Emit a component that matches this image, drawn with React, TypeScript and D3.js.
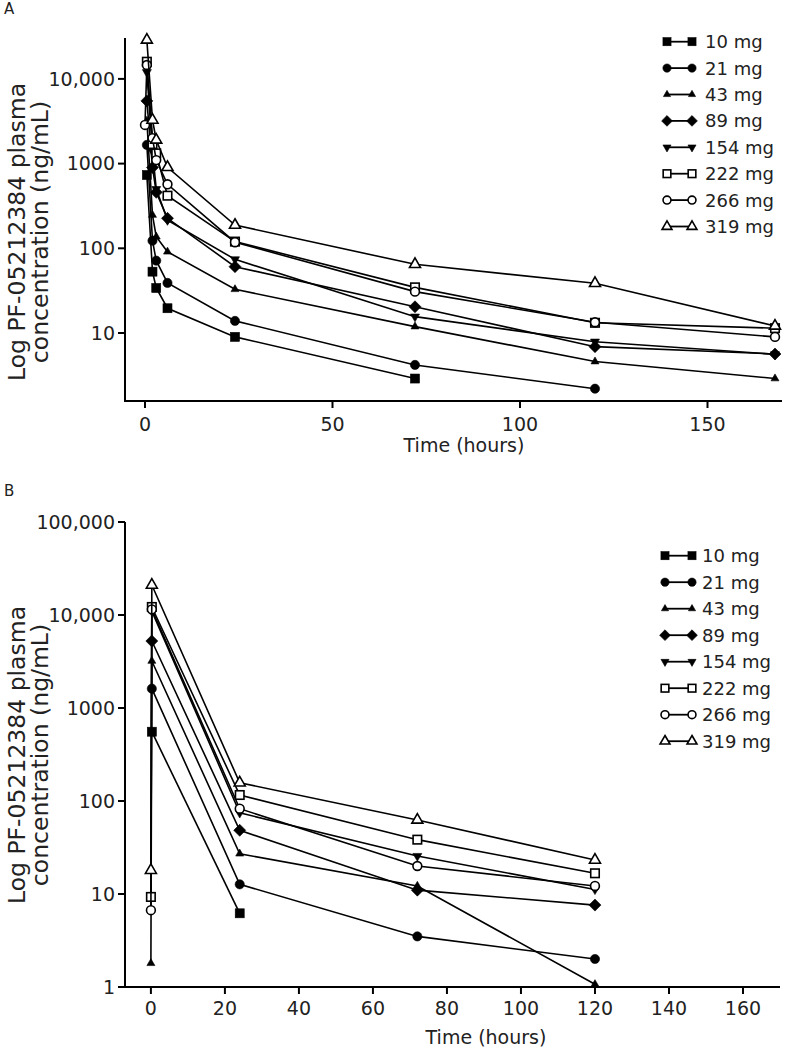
import React from "react";
import * as d3 from "d3";

// ---------- DATA ----------
const doseLabels = ["10 mg", "21 mg", "43 mg", "89 mg", "154 mg", "222 mg", "266 mg", "319 mg"];
const markerKinds = ["squareF", "circleF", "triF", "diamondF", "downF", "squareO", "circleO", "triO"];

// Panel A (hours, ng/mL)
const A10_t = [0.5, 2, 3, 6, 24, 72];
const A10_v = [733, 53, 34, 19.6, 9.0, 2.9];
const A21_t = [0.5, 2, 3, 6, 24, 72, 120];
const A21_v = [1660, 123, 71.5, 39, 13.9, 4.2, 2.2];
const A43_t = [0.5, 2, 3, 6, 24, 72, 120, 168];
const A43_v = [3200, 247, 137, 91, 32.8, 11.9, 4.6, 2.9];
const A89_t = [0.5, 2, 3, 6, 24, 72, 120, 168];
const A89_v = [5500, 900, 458, 226, 60.7, 20.4, 6.9, 5.65];
const A154_t = [0.5, 2, 3, 6, 24, 72, 120, 168];
const A154_v = [12000, 1400, 500, 215, 74, 15.6, 7.9, 5.6];
const A222_t = [0.5, 2, 3, 6, 24, 72, 120, 168];
const A222_v = [15950, 1700, 1320, 418, 120, 34.6, 13.2, 11.4];
const A266_t = [0, 0.5, 2, 3, 6, 24, 72, 120, 168];
const A266_v = [2860, 14600, 2000, 1100, 570, 118, 30.8, 13.4, 9.0];
const A319_t = [0.5, 2, 3, 6, 24, 72, 120, 168];
const A319_v = [28800, 3270, 1900, 904, 188, 64.7, 38.6, 12.1];

// Panel B
const B10_t = [0.25, 24];
const B10_v = [556, 6.2];
const B21_t = [0.25, 24, 72, 120];
const B21_v = [1615, 12.7, 3.5, 2.0];
const B43_t = [0, 0.25, 24, 72, 120];
const B43_v = [1.8, 3200, 27.1, 12.2, 1.07];
const B89_t = [0.25, 24, 72, 120];
const B89_v = [5250, 48.4, 11, 7.6];
const B154_t = [0.25, 24, 72, 120];
const B154_v = [11000, 74.6, 25.6, 11.2];
const B222_t = [0, 0.25, 24, 72, 120];
const B222_v = [9.3, 12200, 116, 38.4, 16.7];
const B266_t = [0, 0.25, 24, 72, 120];
const B266_v = [6.7, 11500, 82.6, 20, 12.2];
const B319_t = [0, 0.25, 24, 72, 120];
const B319_v = [18, 21000, 157, 62.5, 23.2];

const A_ticksX = [0, 50, 100, 150];
const A_ticksY = [10, 100, 1000, 10000];
const A_tickLabelsY = ["10", "100", "1000", "10,000"];
const B_ticksX = [0, 20, 40, 60, 80, 100, 120, 140, 160];
const B_ticksY = [1, 10, 100, 1000, 10000, 100000];
const B_tickLabelsY = ["1", "10", "100", "1000", "10,000", "100,000"];

const seriesA = [
  [A10_t, A10_v], [A21_t, A21_v], [A43_t, A43_v], [A89_t, A89_v],
  [A154_t, A154_v], [A222_t, A222_v], [A266_t, A266_v], [A319_t, A319_v],
];
const seriesB = [
  [B10_t, B10_v], [B21_t, B21_v], [B43_t, B43_v], [B89_t, B89_v],
  [B154_t, B154_v], [B222_t, B222_v], [B266_t, B266_v], [B319_t, B319_v],
];

// ---------- DRAWING ----------
const FONT = "'DejaVu Sans', sans-serif";

function Marker({ kind, x, y, scale = 1 }: { kind: string; x: number; y: number; scale?: number }) {
  const filled = kind.endsWith("F");
  const fill = filled ? "#000" : "#fff";
  const sw = filled ? 0.6 : 1.6;
  const base = kind.slice(0, -1);
  let el: any = null;
  if (base === "square") {
    const s = (filled ? 9 : 8.5) * scale;
    el = <rect x={-s / 2} y={-s / 2} width={s} height={s} fill={fill} stroke="#000" strokeWidth={sw} />;
  } else if (base === "circle") {
    const r = (filled ? 4.6 : 4.4) * scale;
    el = <circle r={r} fill={fill} stroke="#000" strokeWidth={sw} />;
  } else if (base === "tri") {
    const a = (filled ? 8 : 11) * scale;
    const h = a * 0.866;
    el = <path d={`M0,${-2 * h / 3}L${a / 2},${h / 3}L${-a / 2},${h / 3}Z`} fill={fill} stroke="#000" strokeWidth={sw} />;
  } else if (base === "down") {
    const a = 9 * scale;
    const h = a * 0.866;
    el = <path d={`M0,${2 * h / 3}L${a / 2},${-h / 3}L${-a / 2},${-h / 3}Z`} fill={fill} stroke="#000" strokeWidth={sw} />;
  } else if (base === "diamond") {
    const r = 6 * scale;
    el = <path d={`M0,${-r}L${r},0L0,${r}L${-r},0Z`} fill={fill} stroke="#000" strokeWidth={sw} />;
  }
  return <g transform={`translate(${x},${y})`}>{el}</g>;
}

function Panel({
  series, xScale, yScale, ticksX, ticksY, tickLabelsY, xAxisEnd, yTop, yBottom,
  xTitleX, xTitleY, xTickLabelY, yTitleCenter, legendTop, legendStep, legendX0, legendX1, legendTextX,
}: any) {
  const line = d3.line<[number, number]>().x((d) => xScale(d[0])).y((d) => yScale(d[1]));
  const x0 = xScale.range()[0];
  return (
    <g>
      {/* axes */}
      <line x1={x0} x2={x0} y1={yTop} y2={yBottom} stroke="#000" strokeWidth={2} />
      <line x1={x0 - 1} x2={xAxisEnd} y1={yBottom} y2={yBottom} stroke="#000" strokeWidth={2} />
      {ticksY.map((t: number, i: number) => (
        <g key={"ty" + i}>
          <line x1={x0 - 7} x2={x0} y1={yScale(t)} y2={yScale(t)} stroke="#000" strokeWidth={2} />
          <text x={x0 - 10} y={yScale(t)} dy="0.36em" textAnchor="end" fontSize={19} fontFamily={FONT} fill="#222">
            {tickLabelsY[i]}
          </text>
        </g>
      ))}
      {ticksX.map((t: number, i: number) => (
        <g key={"tx" + i}>
          <line x1={xScale(t)} x2={xScale(t)} y1={yBottom} y2={yBottom + 7} stroke="#000" strokeWidth={2} />
          <text x={xScale(t)} y={xTickLabelY} textAnchor="middle" fontSize={19} fontFamily={FONT} fill="#222">
            {t}
          </text>
        </g>
      ))}
      <text x={xTitleX} y={xTitleY} textAnchor="middle" fontSize={19} fontFamily={FONT} fill="#222">
        Time (hours)
      </text>
      <g transform={`translate(17,${yTitleCenter}) rotate(-90)`}>
        <text x={0} y={0} dy="0.36em" textAnchor="middle" fontSize={23.5} fontFamily={FONT} fill="#222">
          Log PF-05212384 plasma
        </text>
        <text x={0} y={23} dy="0.36em" textAnchor="middle" fontSize={23.5} fontFamily={FONT} fill="#222">
          concentration (ng/mL)
        </text>
      </g>
      {/* data */}
      {series.map((s: any, si: number) => {
        const pts: [number, number][] = s[0].map((t: number, i: number) => [t, s[1][i]]);
        return (
          <g key={"s" + si}>
            <path d={line(pts) || ""} fill="none" stroke="#000" strokeWidth={1.6} />
            {pts.map((p, i) => (
              <Marker key={i} kind={markerKinds[si]} x={xScale(p[0])} y={yScale(p[1])} />
            ))}
          </g>
        );
      })}
      {/* legend */}
      {doseLabels.map((lab, i) => {
        const y = legendTop + i * legendStep;
        return (
          <g key={"l" + i}>
            <line x1={legendX0} x2={legendX1} y1={y} y2={y} stroke="#000" strokeWidth={1.8} />
            <Marker kind={markerKinds[i]} x={legendX0} y={y} scale={0.9} />
            <Marker kind={markerKinds[i]} x={legendX1} y={y} scale={0.9} />
            <text x={legendTextX} y={y} dy="0.36em" fontSize={18} fontFamily={FONT} fill="#222">
              {lab}
            </text>
          </g>
        );
      })}
    </g>
  );
}

export default function App() {
  const xA = d3.scaleLinear().domain([-5.33, 170]).range([125, 782.5]);
  const yA = d3.scaleLog().domain([1.575, 30400]).range([401, 38]);
  const xB = d3.scaleLinear().domain([-7, 170]).range([125, 780]);
  const yB = d3.scaleLog().domain([1, 100000]).range([987, 522]);
  return (
    <svg width={801} height={1050} style={{ position: "absolute", left: 0, top: 0, background: "#fff" }}>
      <rect width={801} height={1050} fill="#fff" />
      <text x={4} y={14} fontSize={15} fontFamily={FONT} fill="#222">A</text>
      <text x={4} y={496} fontSize={15} fontFamily={FONT} fill="#222">B</text>
      <Panel
        series={seriesA} xScale={xA} yScale={yA} ticksX={A_ticksX} ticksY={A_ticksY} tickLabelsY={A_tickLabelsY}
        xAxisEnd={782} yTop={38} yBottom={401} xTitleX={464} xTitleY={452} xTickLabelY={431}
        yTitleCenter={232} legendTop={41.7} legendStep={26.4} legendX0={667} legendX1={692} legendTextX={705}
      />
      <Panel
        series={seriesB} xScale={xB} yScale={yB} ticksX={B_ticksX} ticksY={B_ticksY} tickLabelsY={B_tickLabelsY}
        xAxisEnd={780} yTop={522} yBottom={987} xTitleX={486} xTitleY={1044} xTickLabelY={1015}
        yTitleCenter={755} legendTop={555.7} legendStep={26.5} legendX0={665} legendX1={692} legendTextX={702}
      />
    </svg>
  );
}
